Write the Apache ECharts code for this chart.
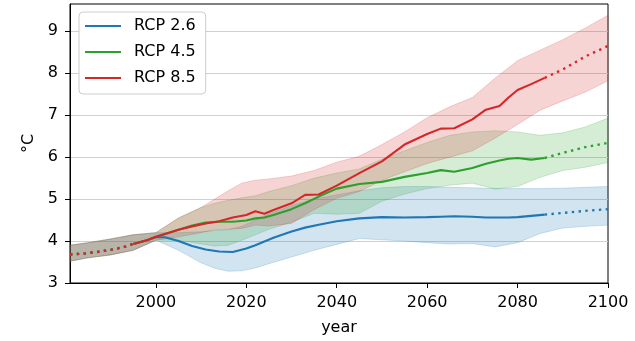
<!DOCTYPE html>
<html>
<head>
<meta charset="utf-8">
<script src="https://cdn.jsdelivr.net/npm/echarts@6/dist/echarts.min.js"></script>
<style>
  html, body { margin: 0; padding: 0; background: #fff; }
  #chart { width: 635px; height: 341px; }
</style>
</head>
<body>
<div id="chart"></div>
<script>
// historical mean (all scenarios share it)
const histYears = [1981, 1984, 1987, 1990, 1993, 1995]
const histMean = [3.68, 3.7, 3.74, 3.79, 3.86, 3.93]

// projected mean, solid part
const meanYears = [1995, 1998, 2000, 2002, 2005, 2008, 2011, 2014, 2017, 2020, 2022, 2024, 2026, 2030, 2033, 2036, 2040, 2045, 2050, 2055, 2060, 2063, 2066, 2070, 2073, 2076, 2078, 2080, 2083, 2086]
const mean26 = [3.93, 4.02, 4.09, 4.09, 4.0, 3.88, 3.8, 3.75, 3.74, 3.82, 3.9, 3.99, 4.08, 4.23, 4.32, 4.39, 4.47, 4.54, 4.57, 4.56, 4.57, 4.58, 4.59, 4.58, 4.56, 4.56, 4.56, 4.57, 4.6, 4.63]
const mean45 = [3.93, 4.02, 4.1, 4.17, 4.27, 4.37, 4.44, 4.46, 4.46, 4.49, 4.54, 4.56, 4.62, 4.76, 4.9, 5.06, 5.25, 5.36, 5.41, 5.53, 5.62, 5.69, 5.65, 5.74, 5.84, 5.92, 5.96, 5.98, 5.94, 5.98]
const mean85 = [3.93, 4.02, 4.1, 4.17, 4.27, 4.35, 4.42, 4.47, 4.56, 4.62, 4.71, 4.65, 4.74, 4.9, 5.1, 5.11, 5.32, 5.62, 5.9, 6.3, 6.55, 6.68, 6.69, 6.9, 7.13, 7.22, 7.42, 7.6, 7.74, 7.89]

// projected mean, dotted tail
const tailYears = [2086, 2090, 2095, 2100]
const tail26 = [4.63, 4.67, 4.72, 4.76]
const tail45 = [5.98, 6.1, 6.24, 6.34]
const tail85 = [7.89, 8.09, 8.4, 8.65]

// spread bands
const bandYears = [1981, 1985, 1990, 1995, 2000, 2005, 2010, 2013, 2016, 2019, 2022, 2025, 2030, 2035, 2040, 2045, 2050, 2055, 2060, 2065, 2070, 2075, 2080, 2085, 2090, 2095, 2100]
const lo26 = [3.52, 3.6, 3.67, 3.78, 4.02, 3.78, 3.48, 3.35, 3.28, 3.29, 3.36, 3.46, 3.62, 3.78, 3.92, 4.06, 4.03, 4.0, 3.96, 3.93, 3.94, 3.86, 3.96, 4.18, 4.31, 4.35, 4.38]
const hi26 = [3.9, 3.96, 4.05, 4.15, 4.2, 4.2, 4.22, 4.25, 4.27, 4.35, 4.5, 4.65, 4.85, 5.0, 5.1, 5.2, 5.27, 5.3, 5.3, 5.28, 5.27, 5.25, 5.25, 5.25, 5.26, 5.28, 5.3]
const lo45 = [3.52, 3.6, 3.67, 3.78, 4.02, 4.02, 3.93, 3.88, 3.9, 4.02, 4.15, 4.28, 4.45, 4.66, 4.64, 4.66, 4.95, 5.12, 5.25, 5.33, 5.38, 5.24, 5.3, 5.52, 5.68, 5.76, 5.87]
const hi45 = [3.9, 3.96, 4.05, 4.15, 4.2, 4.55, 4.8, 4.9, 4.97, 5.03, 5.08, 5.18, 5.32, 5.5, 5.62, 5.72, 5.95, 6.15, 6.35, 6.52, 6.6, 6.63, 6.6, 6.52, 6.58, 6.72, 6.93]
const lo85 = [3.52, 3.6, 3.67, 3.78, 4.02, 4.1, 4.2, 4.27, 4.28, 4.3, 4.38, 4.36, 4.42, 4.75, 5.02, 5.18, 5.45, 5.65, 5.85, 6.0, 6.15, 6.45, 6.78, 7.12, 7.34, 7.55, 7.82]
const hi85 = [3.9, 3.96, 4.05, 4.15, 4.2, 4.55, 4.8, 5.0, 5.2, 5.38, 5.45, 5.48, 5.55, 5.68, 5.88, 6.02, 6.3, 6.6, 6.94, 7.2, 7.42, 7.88, 8.3, 8.55, 8.8, 9.08, 9.38]

const xTicks = [2000, 2020, 2040, 2060, 2080, 2100]
const yTicks = [3, 4, 5, 6, 7, 8, 9]

const names = ['RCP 2.6', 'RCP 4.5', 'RCP 8.5']
const colors = ['#1f77b4', '#2ca02c', '#d62728']
const fills = ['rgba(31,119,180,0.2)', 'rgba(44,160,44,0.2)', 'rgba(214,39,40,0.2)']

const font = 'DejaVu Sans'

const pairs = (xs, ys) => xs.map((x, i) => [x, ys[i]])

const band = (lo, hi, k) => ({
  type: 'custom',
  silent: true,
  z: 1,
  data: bandYears.map((y, i) => [y, lo[i], hi[i]]),
  encode: { x: 0, y: [1, 2] },
  renderItem: (params, api) => {
    if (params.dataIndex !== 0) return null
    const pts = []
    bandYears.forEach((y, i) => pts.push(api.coord([y, hi[i]])))
    for (let i = bandYears.length - 1; i >= 0; i--) pts.push(api.coord([bandYears[i], lo[i]]))
    return {
      type: 'polygon',
      shape: { points: pts },
      style: { fill: fills[k], stroke: fills[k], lineWidth: 1 }
    }
  }
})

const line = (name, data, k, dotted) => ({
  name: name,
  type: 'line',
  z: 3 + k,
  showSymbol: false,
  symbol: 'none',
  data: data,
  lineStyle: { color: colors[k], width: dotted ? 2.4 : 2.1, type: dotted ? [2.4, 4.4] : 'solid' },
  itemStyle: { color: colors[k] }
})

const chart = echarts.init(document.getElementById('chart'))

chart.setOption({
  animation: false,
  grid: { left: 70, right: 27, top: 4, bottom: 56, show: true, borderColor: '#000', borderWidth: 1 },
  legend: {
    data: names,
    orient: 'vertical',
    left: 79,
    top: 12,
    icon: 'rect',
    itemWidth: 36,
    itemHeight: 2,
    itemGap: 10,
    padding: [6, 10, 8, 6],
    backgroundColor: '#fff',
    borderColor: '#ccc',
    borderWidth: 1,
    borderRadius: 4,
    textStyle: { fontFamily: font, fontSize: 16, color: '#000', lineHeight: 16, padding: [0, 0, 0, 8] }
  },
  xAxis: {
    type: 'value',
    min: 1981,
    max: 2100,
    name: 'year',
    nameLocation: 'middle',
    nameGap: 37,
    nameTextStyle: { fontFamily: font, fontSize: 16, color: '#000' },
    axisLine: { lineStyle: { color: '#000' } },
    axisTick: { length: 5, customValues: xTicks, lineStyle: { color: '#000' } },
    axisLabel: { customValues: xTicks, formatter: v => String(v), margin: 12, fontFamily: font, fontSize: 16, color: '#000' },
    splitLine: { show: false }
  },
  yAxis: {
    type: 'value',
    min: 3,
    max: 9.65,
    interval: 1,
    name: '°C',
    nameLocation: 'middle',
    nameGap: 26,
    nameTextStyle: { fontFamily: font, fontSize: 16, color: '#000' },
    axisLine: { show: true, lineStyle: { color: '#000' } },
    axisTick: { show: true, length: 5, customValues: yTicks, lineStyle: { color: '#000' } },
    axisLabel: { customValues: yTicks, margin: 12, fontFamily: font, fontSize: 16, color: '#000' },
    splitLine: { lineStyle: { color: '#d0d0d0', width: 1 } }
  },
  series: [
    band(lo26, hi26, 0),
    band(lo45, hi45, 1),
    band(lo85, hi85, 2),
    line('hist26', pairs(histYears, histMean), 0, true),
    line('hist45', pairs(histYears, histMean), 1, true),
    line('hist85', pairs(histYears, histMean), 2, true),
    line(names[0], pairs(meanYears, mean26), 0, false),
    line(names[1], pairs(meanYears, mean45), 1, false),
    line(names[2], pairs(meanYears, mean85), 2, false),
    line('tail26', pairs(tailYears, tail26), 0, true),
    line('tail45', pairs(tailYears, tail45), 1, true),
    line('tail85', pairs(tailYears, tail85), 2, true)
  ]
})
</script>
</body>
</html>
